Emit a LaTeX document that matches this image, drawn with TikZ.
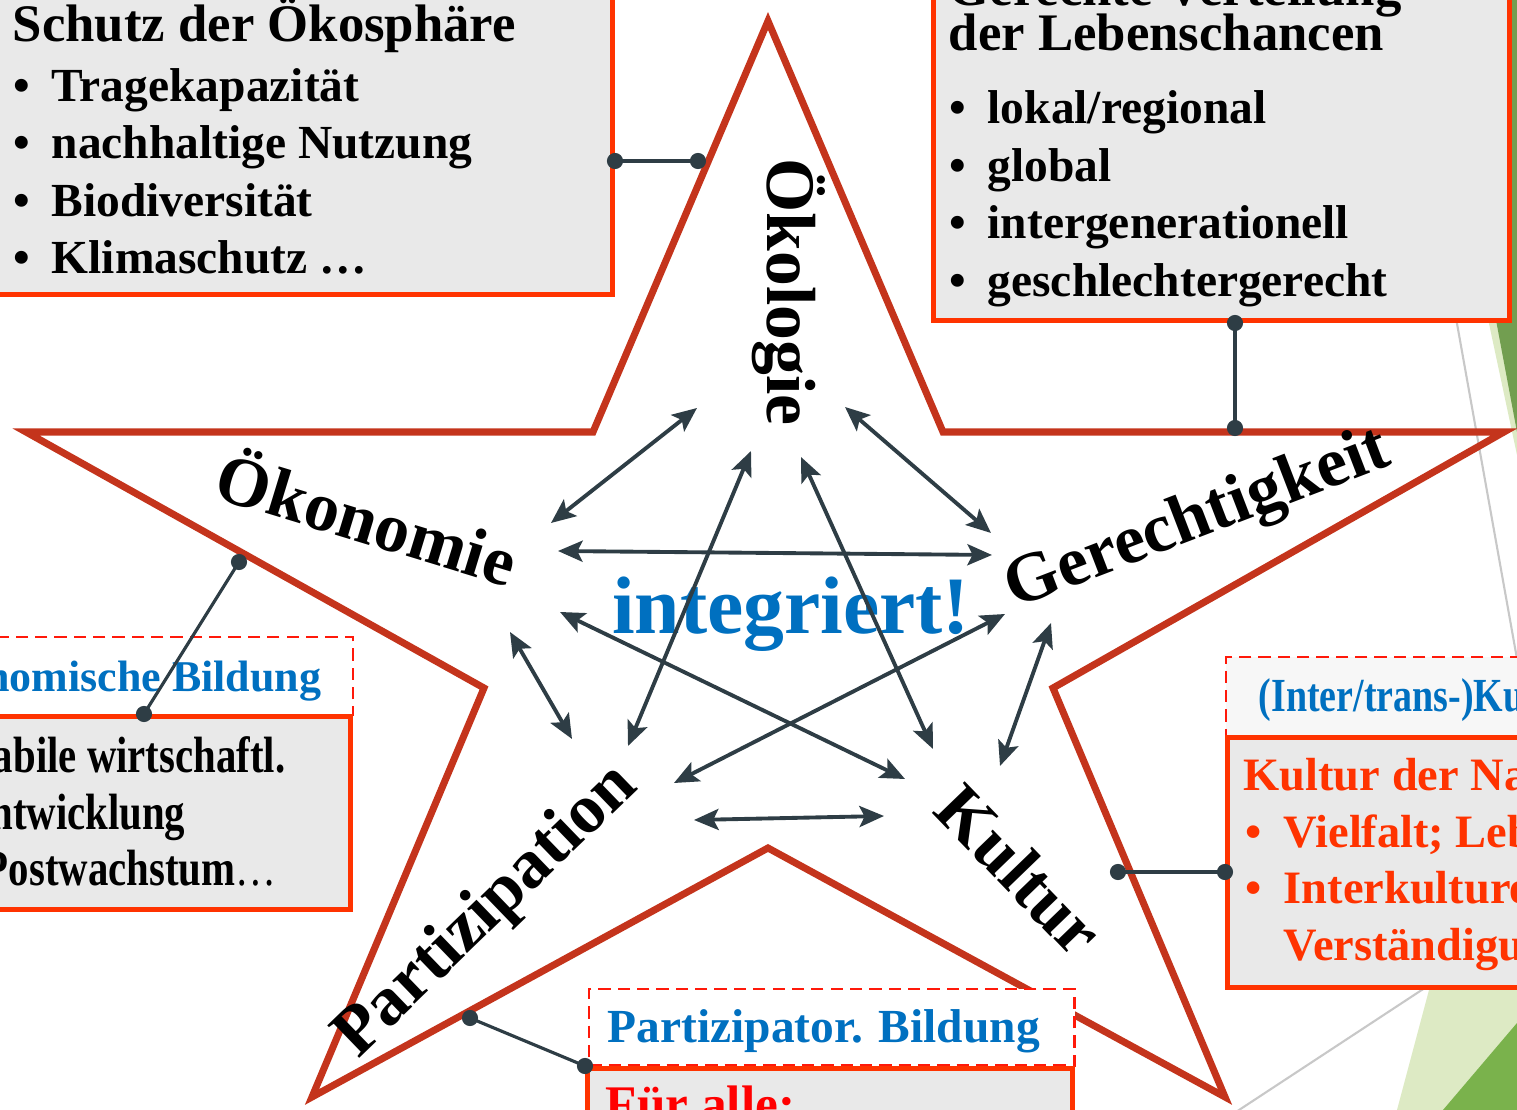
\documentclass[tikz,border=0pt]{standalone}
\usepackage{fontspec}
\setmainfont{Liberation Serif}
\newfontfamily\narrowfont[FakeStretch=0.8]{Liberation Serif}
\usetikzlibrary{arrows.meta,calc}
\definecolor{starred}{RGB}{196,52,28}
\definecolor{boxred}{RGB}{255,51,0}
\definecolor{dashred}{RGB}{255,25,10}
\definecolor{boxgray}{RGB}{233,233,233}
\definecolor{pale}{RGB}{247,247,247}
\definecolor{linkgray}{RGB}{46,61,69}
\definecolor{titleblue}{RGB}{0,112,192}
\definecolor{leafdark}{RGB}{114,158,80}
\definecolor{leafgreen}{RGB}{122,178,76}
\definecolor{leaflight}{RGB}{221,234,196}
\definecolor{thingray}{RGB}{200,200,200}
\tikzstyle{box}=[rectangle, fill=boxgray, draw=boxred, line width=1.4pt, inner sep=0pt]
\tikzstyle{dashbox}=[rectangle, fill=white, draw=dashred, line width=0.7pt, dash pattern=on 3.5pt off 2pt, inner sep=0pt]
\tikzstyle{head}=[font=\fontsize{15}{18}\selectfont\bfseries, anchor=base west, inner sep=0pt]
\tikzstyle{item}=[font=\fontsize{13.5}{16}\selectfont\bfseries, anchor=base west, inner sep=0pt]
\tikzstyle{narrowitem}=[font=\fontsize{14.5}{17}\narrowfont\bfseries, anchor=base east, inner sep=0pt]
\tikzstyle{arm}=[font=\fontsize{19.8}{24}\selectfont\bfseries, inner sep=0pt]
\tikzstyle{bildung}=[font=\fontsize{13.5}{16}\selectfont\bfseries, text=titleblue, inner sep=0pt]
\tikzstyle{starline}=[draw=starred, line width=2pt, line join=miter]
\tikzstyle{twoway}=[draw=linkgray, line width=1.1pt, {Stealth[length=7pt,width=6pt,inset=1.5pt]}-{Stealth[length=7pt,width=6pt,inset=1.5pt]}]
\tikzstyle{tether}=[draw=linkgray, line width=0.9pt]
\newcommand{\bul}{\makebox[0.38cm][l]{\textbullet}}
\newcommand{\tetherline}[2]
{
  \draw[tether] (#1) -- (#2);
  \fill[linkgray] (#1) circle (2.3pt);
  \fill[linkgray] (#2) circle (2.3pt);
}
\begin{document}
\begin{tikzpicture}[x=0.01cm, y=-0.01cm]
	\useasboundingbox (0,0) rectangle (1517,1110);
	\clip (0,0) rectangle (1517,1110);

	% slide backdrop
	\fill[leaflight] (1420,0) -- (1517,0) -- (1517,455) -- cycle;
	\fill[leafdark] (1436,0) -- (1517,0) -- (1517,432) -- cycle;
	\fill[leaflight] (1397,1110) -- (1517,660) -- (1517,1110) -- cycle;
	\fill[leafgreen] (1443,1110) -- (1517,1023) -- (1517,1110) -- cycle;
	\draw[thingray, line width=0.6pt] (1451,290) -- (1519,670);
	\draw[thingray, line width=0.6pt] (1236,1112) -- (1440,978);

	\draw[starline] (768,21) -- (943,432) -- (1504,432) -- (1053,688) -- (1225,1097) -- (768,848)
		-- (312,1097) -- (484,688) -- (26,432) -- (593,432) -- cycle;

	\node[box, minimum width=6.5cm, minimum height=3.4cm, anchor=south east](oekobox) at (615,297){};
	\node[box, minimum width=5.76cm, minimum height=3.6cm, anchor=south west](gerbox) at (931,323){};
	\node[dashbox, minimum width=3.9cm, minimum height=0.78cm, anchor=north east](oekonhead) at (354,636){};
	\node[box, minimum width=3.9cm, minimum height=1.93cm, anchor=north east](oekonbox) at (353,714){};
	\node[dashbox, fill=pale, minimum width=3.5cm, minimum height=0.79cm, anchor=north west](kulthead) at (1225,656){};
	\node[box, minimum width=3.5cm, minimum height=2.5cm, anchor=north west](kultbox) at (1225,735){};
	\node[dashbox, minimum width=4.85cm, minimum height=0.76cm, anchor=north west](parthead) at (588,988){};
	\node[box, minimum width=4.85cm, minimum height=1cm, anchor=north west](partbox) at (585,1066){};

	% box texts
	\node[head](oekotitle) at (12,42){Schutz der Ökosphäre};
	\foreach \t [count=\i] in {Tragekapazität, nachhaltige Nutzung, Biodiversität, Klimaschutz …}
		\node[item](oeko-\i) at (13,44+57.5*\i){\bul\t};
	\node[head](gertitle) at (948,6){Gerechte Verteilung};
	\node[head](gertitle2) at (948,51){der Lebenschancen};
	\foreach \t [count=\i] in {lokal/regional, global, intergenerationell, geschlechtergerecht}
		\node[item](ger-\i) at (949,66.5+57.5*\i){\bul\t};
	\node[bildung, font=\fontsize{12.5}{15}\selectfont\bfseries, anchor=base east](oekontitle) at (322,692){Ökonomische Bildung};
	\node[narrowitem](oekon-1) at (286,773){Stabile wirtschaftl.};
	\node[narrowitem](oekon-2) at (186,830){Entwicklung};
	\node[narrowitem](oekon-3) at (277,886){Postwachstum{\mdseries …}};
	\node[bildung, font=\fontsize{13.5}{16}\narrowfont\bfseries, anchor=base west](kulttitle) at (1258,712){(Inter/trans-)Kulturelle Bildung};
	\node[item, font=\fontsize{13.2}{16}\selectfont\bfseries, text=boxred](kult-1) at (1243,791){Kultur der Nachhaltigkeit};
	\node[item, font=\fontsize{13.2}{16}\selectfont\bfseries, text=boxred](kult-2) at (1245,848){\bul Vielfalt; Lebensstile};
	\node[item, font=\fontsize{13.2}{16}\selectfont\bfseries, text=boxred](kult-3) at (1245,904){\bul Interkulturelle};
	\node[item, font=\fontsize{13.2}{16}\selectfont\bfseries, text=boxred](kult-4) at (1245,961){\hspace{0.38cm}Verständigung};
	\node[bildung, anchor=base west](parttitle) at (607,1043){Partizipator. Bildung};
	\node[item, font=\fontsize{14.6}{17}\selectfont\bfseries, text=red](part-1) at (605,1122){Für alle:};

	% star arms
	\node[arm, rotate=-90, anchor=base](oekol) at (767,292){Ökologie};
	\node[arm, rotate=-17](oekon) at (368,515){Ökonomie};
	\node[arm, rotate=21](gerecht) at (1198,521){Gerechtigkeit};
	\node[arm, rotate=44](partiz) at (487,912){Partizipation};
	\node[arm, rotate=-46](kultur) at (1020,870){Kultur};
	\node[font=\fontsize{23.2}{28}\selectfont\bfseries, text=titleblue, inner sep=0pt, anchor=base](integ) at (791,634){integriert!};

	% pins from star to boxes
	\coordinate (oekodot) at (698,161);
	\coordinate (gerdot) at (1235,428);
	\coordinate (oekondot) at (239,562);
	\coordinate (kultdot) at (1118,872);
	\coordinate (partdot) at (470,1018);
	\tetherline{oekodot}{oekodot -| oekobox.east}
	\tetherline{gerdot}{gerdot |- gerbox.south}
	\tetherline{oekondot}{$(oekonbox.north east)+(-209,0)$}
	\tetherline{kultdot}{kultdot -| kultbox.west}
	\tetherline{partdot}{partbox.north west}

	% arrow ends round the arms
	\foreach \n/\x/\y in {okl-okn/697/408, okl-ger/845/407, okl-par/751/451, okl-kul/801/457,
		okn-okl/551/523, okn-ger/558/551, okn-kul/560/612, okn-par/510/632,
		ger-okl/991/533, ger-okn/992/555, ger-par/1005/614, ger-kul/1051/623,
		par-okl/628/746, par-okn/572/739, par-ger/674/783, par-kul/694/820,
		kul-okl/933/749, kul-okn/905/779, kul-ger/1000/766, kul-par/884/816}
		\coordinate (\n) at (\x,\y);
	\foreach \a/\b in {okl/okn, okl/ger, okl/par, okl/kul, okn/ger, okn/kul, okn/par, ger/par, ger/kul, par/kul}
		\draw[twoway] (\a-\b) -- (\b-\a);

\end{tikzpicture}
\end{document}
